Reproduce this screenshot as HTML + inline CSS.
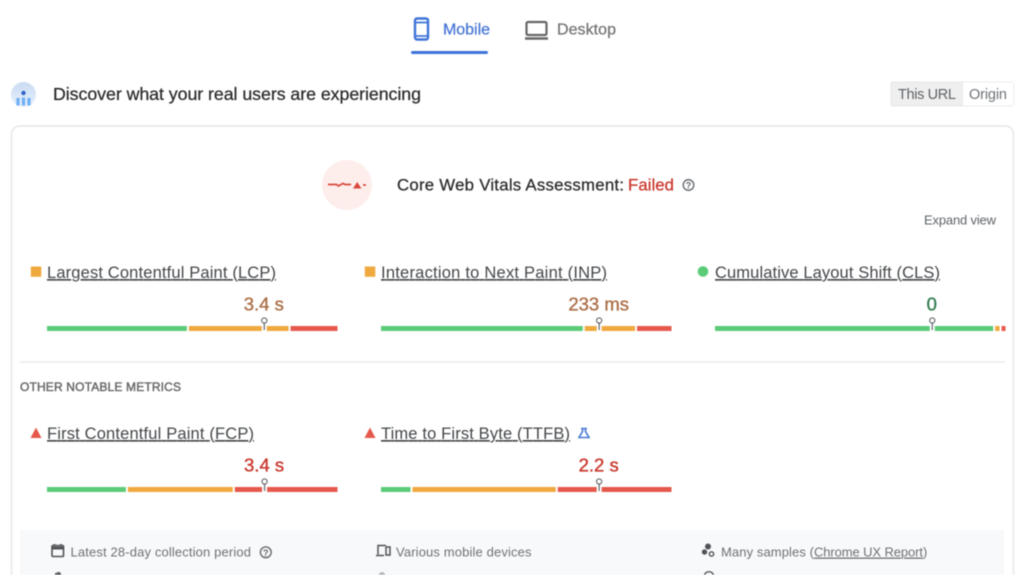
<!DOCTYPE html>
<html lang="en">
<head>
<meta charset="utf-8">
<title>Core Web Vitals</title>
<style>
html,body{margin:0;padding:0;background:#fff;width:1024px;height:575px;overflow:hidden}
svg{display:block;font-family:"Liberation Sans",sans-serif;filter:blur(.4px)}
</style>
</head>
<body>
<svg id="stage" width="1024" height="575" viewBox="0 0 1024 575" xmlns="http://www.w3.org/2000/svg">
  <defs>
    <linearGradient id="hdrGrad" x1="0" y1="0" x2="0" y2="1">
      <stop offset="0" stop-color="#c9dbf3"/><stop offset="1" stop-color="#e8f1fc"/>
    </linearGradient>
  </defs>

  <!-- tabs -->
  <g>
    <g fill="none" stroke="#3f74d8" stroke-width="2.400">
      <rect x="415" y="18.500" width="13" height="21" rx="2"/>
      <path d="M415 22.500h13M415 36h13" stroke-width="1.800"/>
    </g>
    <text x="443" y="34.500" font-size="16" fill="#4a78d6" stroke="#4a78d6" stroke-width=".3" textLength="47">Mobile</text>
    <rect x="411" y="51" width="77" height="3" rx="1.500" fill="#3f74d8"/>
  </g>
  <g>
    <g fill="none" stroke="#666">
      <rect x="526.500" y="22" width="20" height="13" rx="1.500" stroke-width="2.200"/>
      <path d="M525 38.500h23" stroke-width="2.400"/>
    </g>
    <text x="557" y="34.500" font-size="16" fill="#757575" stroke="#757575" stroke-width=".25" textLength="59">Desktop</text>
  </g>

  <!-- header row -->
  <g>
    <circle cx="23.500" cy="94.500" r="12.500" fill="url(#hdrGrad)"/>
    <circle cx="23.500" cy="93" r="2.200" fill="#2f62c4"/>
    <path d="M18 98v7.500M23.500 97.500v8M29 98v7.500" stroke="#6fb0f5" stroke-width="3.200"/>
  </g>
  <text x="53" y="100" font-size="17.800" fill="#2a2b2d" stroke="#2a2b2d" stroke-width=".25" textLength="368">Discover what your real users are experiencing</text>

  <g>
    <rect x="891" y="82" width="123" height="24" rx="2" fill="#fff" stroke="#ececec" stroke-width="1"/>
    <rect x="891" y="82" width="72" height="24" rx="2" fill="#efefef" stroke="#e6e6e6"/>
    <rect x="963" y="82.500" width="50.500" height="23" fill="#fff"/>
    <text x="898" y="99" font-size="14.500" fill="#5f6368" textLength="58">This URL</text>
    <text x="969" y="99" font-size="14.500" fill="#6f7377" textLength="38">Origin</text>
  </g>

  <!-- card -->
  <path d="M11.500 580V134a8 8 0 0 1 8-8H1005.500a8 8 0 0 1 8 8V580" fill="#fff" stroke="#e6e6e6" stroke-width="1.400"/>

  <!-- assessment -->
  <g>
    <circle cx="347" cy="185" r="25" fill="#fdeeec"/>
    <path d="M328 184.500h8.500l2 1.500 2.500-1.500 2 -1 2 1h6" fill="none" stroke="#d9483b" stroke-width="1.700"/>
    <path d="M353 188.500l4.200-6.500 4.200 6.500z" fill="#d9483b"/>
    <path d="M363 185h3" stroke="#d9483b" stroke-width="1.700"/>
  </g>
  <text x="397" y="190.500" font-size="16.800" fill="#2a2b2d" stroke="#2a2b2d" stroke-width=".25" textLength="227">Core Web Vitals Assessment:</text>
  <text x="628" y="190.500" font-size="16.800" fill="#c9352b" stroke="#c9352b" stroke-width=".25" textLength="46">Failed</text>
  <g>
    <circle cx="688.500" cy="185" r="5.300" fill="none" stroke="#5f6368" stroke-width="1.300"/>
    <text x="688.500" y="188.500" font-size="9" font-weight="bold" fill="#5f6368" text-anchor="middle">?</text>
  </g>
  <text x="924" y="224.500" font-size="13" fill="#5f6368" textLength="72">Expand view</text>

  <line x1="20" y1="362" x2="1005" y2="362" stroke="#e6e6e6" stroke-width="1.200"/>
  <text x="20" y="391" font-size="12" fill="#6a6a6a" stroke="#6a6a6a" stroke-width=".45" textLength="161">OTHER NOTABLE METRICS</text>

  <!-- status icons -->
  <rect x="30.800" y="266.500" width="10.500" height="10.300" fill="#f0a93f"/>
  <rect x="364.800" y="266.500" width="10.500" height="10.300" fill="#f0a93f"/>
  <circle cx="703" cy="271.500" r="5.300" fill="#5ccb78"/>
  <path d="M30.500 438l5.500-10.500 5.500 10.500z" fill="#e5594c"/>
  <path d="M364.500 438l5.500-10.500 5.500 10.500z" fill="#e5594c"/>
  <g fill="none" stroke="#4a78d6" stroke-width="1.600">
    <path d="M581 428.500h6M582.500 428.500v3l-3.500 6h10l-3.500-6v-3"/>
  </g>

  <g id="chart"></g>

  <!-- footer -->
  <rect x="20" y="530" width="984" height="45" fill="#f8f9fa"/>
  <g fill="none" stroke="#505357" stroke-width="1.600">
    <rect x="52" y="545.500" width="11.500" height="11" rx="1"/>
    <path d="M52 548h11.500" stroke-width="3"/>
    <path d="M54.500 544v2M61 544v2"/>
  </g>
  <text x="70.500" y="556.500" font-size="13" fill="#6e7175" textLength="180.500">Latest 28-day collection period</text>
  <g>
    <circle cx="265.800" cy="552.300" r="5.400" fill="none" stroke="#5f6368" stroke-width="1.300"/>
    <text x="265.800" y="555.800" font-size="9" font-weight="bold" fill="#5f6368" text-anchor="middle">?</text>
  </g>
  <g fill="none" stroke="#505357" stroke-width="1.500">
    <path d="M378 554.500v-9h8M376 555.500h8"/>
    <rect x="386" y="547" width="4" height="8"/>
  </g>
  <text x="396" y="556.500" font-size="13" fill="#6e7175" textLength="135.500">Various mobile devices</text>
  <g fill="#505357">
    <circle cx="708" cy="546.500" r="3"/>
    <circle cx="704.500" cy="552" r="2.700"/>
    <circle cx="711.500" cy="554" r="2.200" fill="none" stroke="#505357" stroke-width="1.400"/>
  </g>
  <text x="721" y="556.500" font-size="13" fill="#6e7175" textLength="93">Many samples (</text>
  <text x="814" y="556.500" font-size="13" fill="#6e7175" text-decoration="underline" textLength="109">Chrome UX Report</text>
  <text x="923" y="556.500" font-size="13" fill="#6e7175">)</text>
  <path d="M55 575v-2h2v-1h3v1h1v2z" fill="#606367"/>
  <path d="M379 575a3 3 0 0 1 6 0z" fill="#b5b8bb"/>
  <path d="M704 575a5 4 0 0 1 10 0h-1.500a3.500 2.500 0 0 0-7 0z" fill="#606367"/>
</svg>

<script>
var metricNames = ["Largest Contentful Paint (LCP)", "Interaction to Next Paint (INP)", "Cumulative Layout Shift (CLS)", "First Contentful Paint (FCP)", "Time to First Byte (TTFB)"];
var metricSlugs = ["lcp", "inp", "cls", "fcp", "ttfb"];
var goodShare = [48.5, 69.8, 96.1, 27.5, 10.5];
var needsShare = [35.0, 18.0, 2.2, 36.8, 50.0];
var poorShare = [16.5, 12.2, 1.7, 35.7, 39.5];
var markerShare = [74.8, 75.1, 74.8, 74.9, 75.1];
var printedValues = ["3.4 s", "233 ms", "0", "3.4 s", "2.2 s"];
var valueTones = ["#ab6d45", "#ab6d45", "#2f7d4f", "#c9352b", "#c9352b"];
var titleWidths = [229, 226, 225, 207, 189];

var SVG_NS = "http://www.w3.org/2000/svg";
var chart = document.getElementById("chart");
var BAR_WIDTH = 290.5;
var BAR_HEIGHT = 5;
var segmentColors = ["#5ccb78", "#f0a93f", "#e5594c"];
var segmentLabels = ["good", "needs-improvement", "poor"];

function columnLeft(i) { return 47 + (i % 3) * 334; }
function rowTop(i) { return i < 3 ? 326 : 487; }
function xScale(i, share) { return columnLeft(i) + share / 100 * BAR_WIDTH; }
function make(tag, parent) {
  var el = document.createElementNS(SVG_NS, tag);
  parent.appendChild(el);
  return el;
}

metricNames.forEach(function (name, i) {
  var slug = metricSlugs[i];
  var top = rowTop(i);
  var group = make("g", chart);
  
  

  var title = make("text", group);
  
  
  title.setAttribute("x", columnLeft(i));
  title.setAttribute("y", top - 48);
  title.setAttribute("font-size", "16.5");
  title.setAttribute("fill", "#44474a");
  title.setAttribute("text-decoration", "underline");
  title.setAttribute("textLength", titleWidths[i]);
  title.textContent = name;

  var shares = [goodShare[i], needsShare[i], poorShare[i]];
  var cumulative = 0;
  shares.forEach(function (share, s) {
    var start = xScale(i, cumulative) + (s === 0 ? 0 : 1);
    cumulative += share;
    var end = xScale(i, cumulative) - (s === 2 ? 0 : 1);
    var seg = make("rect", group);
    
    
    seg.setAttribute("x", start);
    seg.setAttribute("y", top);
    seg.setAttribute("width", Math.max(end - start, 0.5));
    seg.setAttribute("height", BAR_HEIGHT);
    seg.setAttribute("fill", segmentColors[s]);
  });

  var mx = xScale(i, markerShare[i]);
  var gap = make("rect", group);
  
  
  gap.setAttribute("x", mx - 2.5);
  gap.setAttribute("y", top - 1);
  gap.setAttribute("width", 5);
  gap.setAttribute("height", BAR_HEIGHT + 2);
  gap.setAttribute("fill", "#fff");

  var stem = make("line", group);
  
  
  stem.setAttribute("x1", mx);
  stem.setAttribute("x2", mx);
  stem.setAttribute("y1", top - 3);
  stem.setAttribute("y2", top + 4);
  stem.setAttribute("stroke", "#6f7276");
  stem.setAttribute("stroke-width", "1.3");

  var head = make("circle", group);
  
  
  head.setAttribute("cx", mx);
  head.setAttribute("cy", top - 5.5);
  head.setAttribute("r", 2.6);
  head.setAttribute("fill", "#fff");
  head.setAttribute("stroke", "#5f6266");
  head.setAttribute("stroke-width", "1.1");

  var value = make("text", group);
  
  
  value.setAttribute("x", mx - 0.5);
  value.setAttribute("y", top - 15.5);
  value.setAttribute("font-size", "18.5");
  value.setAttribute("text-anchor", "middle");
  value.setAttribute("fill", valueTones[i]);
  value.setAttribute("stroke", valueTones[i]);
  value.setAttribute("stroke-width", "0.35");
  value.textContent = printedValues[i];
});
</script>
</body>
</html>
